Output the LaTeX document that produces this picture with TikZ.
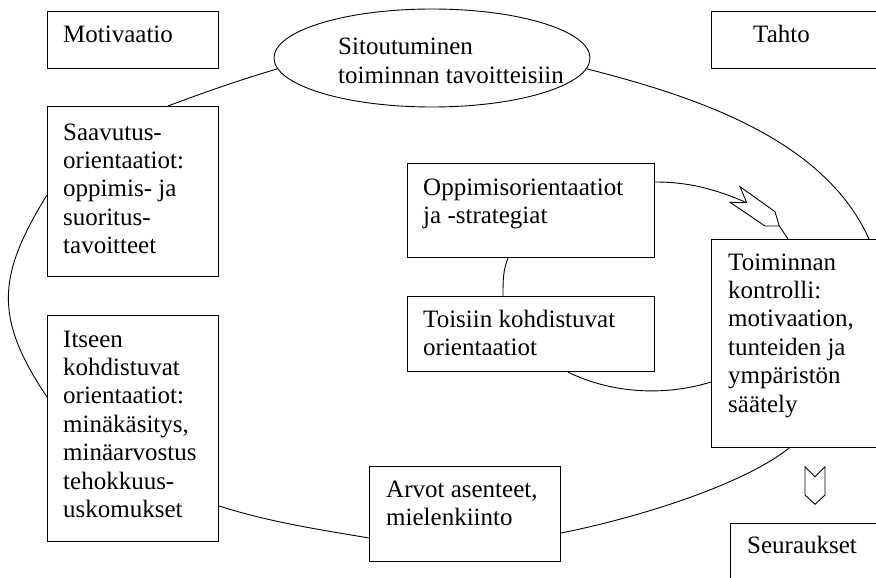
\documentclass[tikz,border=0pt]{standalone}
\usepackage{fontspec}
\setmainfont{Liberation Serif}
\usetikzlibrary{calc,shapes.geometric}
\begin{document}
\begin{tikzpicture}[x=1pt,y=-1pt,
  box/.style={draw, line width=1.1pt, rectangle, inner sep=0pt, anchor=north west},
  lbl/.style={anchor=base west, inner sep=0pt, font=\fontsize{25}{28.4}\selectfont},
  link/.style={line width=0.9pt},
  pointer/.style={draw, line width=0.9pt, line join=miter, fill=white}]
\useasboundingbox (0,0) rectangle (876,578);
\fill[white] (0,0) rectangle (876,578);

% boxes
\node[box, minimum width=171pt, minimum height=57pt]  (motiv)   at (47,11)  {};
\node[box, minimum width=180pt, minimum height=57pt]  (tahto)   at (711,11) {};
\node[box, minimum width=171pt, minimum height=170pt] (saav)    at (47,106) {};
\node[box, minimum width=171pt, minimum height=226pt] (itseen)  at (47,315) {};
\node[box, minimum width=191pt, minimum height=95pt]  (arvot)   at (369,466) {};
\node[box, minimum width=247pt, minimum height=94pt]  (oppi)    at (407,163) {};
\node[box, minimum width=247pt, minimum height=75pt]  (toisiin) at (407,296) {};
\node[box, minimum width=180pt, minimum height=208pt] (toim)    at (711,239) {};
\node[box, minimum width=160pt, minimum height=80pt]  (seur)    at (730,523) {};
\node[draw, ellipse, line width=0.9pt, minimum width=316pt, minimum height=98pt, inner sep=0pt] (sit) at (432,58) {};

% texts
\node[lbl] (motivT)   at (63,43)  {\parbox[t]{200pt}{Motivaatio}};
\node[lbl] (tahtoT)   at (753,43) {\parbox[t]{120pt}{Tahto}};
\node[lbl] (sitT)     at (338,55) {\parbox[t]{260pt}{Sitoutuminen\\toiminnan tavoitteisiin}};
\node[lbl] (saavT)    at (63,140) {\parbox[t]{160pt}{Saavutus-\\orientaatiot:\\oppimis- ja\\suoritus-\\tavoitteet}};
\node[lbl] (itseenT)  at (63,347) {\parbox[t]{160pt}{Itseen\\kohdistuvat\\orientaatiot:\\minäkäsitys,\\minäarvostus\\tehokkuus-\\uskomukset}};
\node[lbl] (oppiT)    at (423,195) {\parbox[t]{240pt}{Oppimisorientaatiot\\ja -strategiat}};
\node[lbl] (toisiinT) at (423,327) {\parbox[t]{240pt}{Toisiin kohdistuvat\\orientaatiot}};
\node[lbl] (toimT)    at (728,270) {\parbox[t]{160pt}{Toiminnan\\kontrolli:\\motivaation,\\tunteiden ja\\ympäristön\\säätely}};
\node[lbl] (arvotT)   at (386,497) {\parbox[t]{200pt}{Arvot asenteet,\\mielenkiinto}};
\node[lbl] (seurT)    at (747,553) {\parbox[t]{140pt}{Seuraukset}};

% outer loop
\draw[link] (sit.184) .. controls +(-40,12) and +(40,-15) .. ($(saav.north west)+(121,0)$);
\draw[link] ($(saav.north west)+(0,89)$) .. controls +(-50,81) and +(-53,-79) .. ($(itseen.north west)+(0,82)$);
\draw[link] ($(itseen.north east)+(0,191)$) .. controls +(50,16) and +(-50,-8.5) .. ($(arvot.north west)+(0,72)$);
\draw[link] ($(arvot.north east)+(0,67)$) .. controls +(80,-16) and +(-45,36) .. ($(toim.south west)+(78,0)$);
\draw[link] (sit.356) .. controls +(110,28) and +(-45,-100) .. ($(toim.north west)+(158,0)$);

% inner connectors
\draw[link] ($(oppi.south west)+(101,0)$) .. controls +(-5,12) and +(0,-15) .. ($(toisiin.north west)+(96,0)$);
\draw[link] ($(toisiin.south west)+(161,0)$) .. controls +(45,22) and +(-45,14) .. ($(toim.north west)+(0,143)$);

% pointer from learning orientations to action control
\coordinate (pA) at (740,186.7);
\coordinate (pB) at (746.7,202.7);
\coordinate (pC) at (730,202.3);
\coordinate (pD) at (765,226);
\coordinate (pE) at (779.3,226);
\coordinate (pF) at (775,211.7);
\draw[link] ($(oppi.north east)+(0,19)$) .. controls +(35,0) and +(-30,-13) .. (pB);
\draw[pointer] (pA) -- (pB) -- (pC) -- (pD) -- (pE) -- (pF) -- cycle;
\draw[link] (pE) -- ($(toim.north west)+(77,0)$);

% pointer towards consequences
\coordinate (qA) at (805,466.7);
\coordinate (qB) at (815,476.7);
\coordinate (qC) at (825,466.7);
\coordinate (qD) at (825,495);
\coordinate (qE) at (815,504.3);
\coordinate (qF) at (805,495);
\draw[pointer] (qA) -- (qB) -- (qC) -- (qD) -- (qE) -- (qF) -- cycle;
\end{tikzpicture}
\end{document}
